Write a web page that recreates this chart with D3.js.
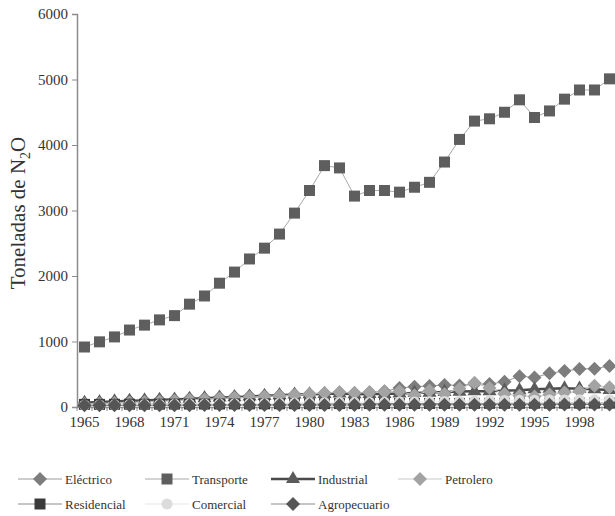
<!DOCTYPE html>
<html>
<head>
<meta charset="utf-8">
<script src="https://cdn.jsdelivr.net/npm/d3@7/dist/d3.min.js"></script>
<style>
  body { margin: 0; background: #fff; }
</style>
</head>
<body>
<script>
'use strict';

const serif = 'Liberation Serif';

// years on the x axis
const years = d3.range(1965, 2001);
const tickYears = years.filter((y) => (y - 1965) % 3 === 0);
const yTicks = [0, 1000, 2000, 3000, 4000, 5000, 6000];

// emissions per sector (toneladas de N2O)
const electrico = [60, 70, 80, 90, 95, 105, 110, 125, 135, 145, 155, 165, 170, 180, 190, 200, 210, 220,
  215, 225, 240, 290, 310, 320, 336, 330, 350, 350, 386, 470, 450, 514, 550, 580, 585, 626];
const transporte = [916, 995, 1070, 1175, 1250, 1330, 1395, 1570, 1695, 1890, 2060, 2260, 2425, 2640,
  2960, 3305, 3685, 3650, 3220, 3305, 3305, 3280, 3355, 3430, 3740, 4085, 4365, 4400, 4500, 4690,
  4420, 4520, 4700, 4840, 4840, 5010];
const industrial = [65, 75, 85, 95, 100, 110, 115, 125, 135, 145, 150, 160, 170, 180, 190, 195, 200,
  205, 195, 200, 200, 205, 215, 220, 230, 235, 240, 240, 250, 255, 270, 280, 285, 280, 270, 260];
const petrolero = [45, 55, 60, 70, 75, 85, 95, 110, 120, 130, 140, 150, 160, 170, 185, 200, 215, 225,
  215, 220, 230, 240, 180, 250, 200, 280, 370, 290, 200, 170, 160, 190, 220, 240, 325, 300];
const residencial = [40, 40, 41, 42, 42, 43, 44, 45, 45, 46, 47, 48, 48, 49, 50, 50, 51, 52, 52, 52,
  53, 53, 54, 54, 55, 55, 56, 56, 57, 57, 58, 58, 59, 59, 60, 60];
const comercial = [30, 32, 34, 36, 38, 40, 42, 44, 46, 48, 50, 52, 55, 58, 60, 62, 65, 67, 68, 70,
  72, 75, 78, 80, 85, 90, 95, 98, 100, 102, 104, 106, 108, 110, 110, 112];
const agropecuario = [25, 25, 26, 26, 27, 27, 28, 28, 29, 29, 30, 30, 30, 31, 31, 32, 32, 32, 32, 33,
  33, 33, 34, 34, 34, 35, 35, 35, 35, 36, 36, 36, 37, 37, 37, 38];

const series = [
  { name: 'Eléctrico', values: electrico, shape: 'diamond', fill: '#7d7d7d', line: '#9a9a9a', lw: 1 },
  { name: 'Transporte', values: transporte, shape: 'square', fill: '#5e5e5e', line: '#a8a8a8', lw: 1 },
  { name: 'Industrial', values: industrial, shape: 'triangle', fill: '#5a5a5a', line: '#4a4a4a', lw: 2.5 },
  { name: 'Petrolero', values: petrolero, shape: 'diamond', fill: '#a3a3a3', line: '#c8c8c8', lw: 1 },
  { name: 'Residencial', values: residencial, shape: 'square', fill: '#3a3a3a', line: '#8a8a8a', lw: 1 },
  { name: 'Comercial', values: comercial, shape: 'circle', fill: '#dcdcdc', line: '#eeeeee', lw: 1.5 },
  { name: 'Agropecuario', values: agropecuario, shape: 'diamond', fill: '#555555', line: '#8a8a8a', lw: 1 }
];

const width = 615, height = 516;
const svg = d3.select('body').append('svg')
  .attr('width', width)
  .attr('height', height)
  .attr('font-family', serif);

const x = d3.scaleBand().domain(years).range([77, 77 + years.length * 15]);
const xc = (yr) => x(yr) + x.bandwidth() / 2;
const y = d3.scaleLinear().domain([0, 6000]).range([407, 14]);

// marker symbols
const symbols = {
  diamond: d3.symbol().type(d3.symbolDiamond2).size(125),
  square: d3.symbol().type(d3.symbolSquare).size(121),
  triangle: d3.symbol().type(d3.symbolTriangle).size(85),
  circle: d3.symbol().type(d3.symbolCircle).size(95)
};

// y axis
const yAxis = svg.append('g')
  .attr('transform', 'translate(77,0)')
  .call(d3.axisLeft(y).tickValues(yTicks).tickSize(5).tickPadding(4).tickFormat(d3.format('d')))
  .attr('font-family', serif)
  .attr('font-size', 15);
yAxis.select('.domain').attr('stroke', '#8c8c8c').attr('stroke-width', 1.5);
yAxis.selectAll('.tick line').attr('stroke', '#8c8c8c');
yAxis.selectAll('.tick text').attr('fill', '#333');

// x axis
const xAxis = svg.append('g')
  .attr('transform', 'translate(0,407)')
  .call(d3.axisBottom(x).tickValues(tickYears).tickSize(0).tickPadding(9))
  .attr('font-family', serif)
  .attr('font-size', 15);
xAxis.select('.domain').attr('stroke', '#8c8c8c').attr('stroke-width', 1.5);
xAxis.selectAll('.tick text').attr('fill', '#333');
// small ticks between categories
svg.append('g').selectAll('line')
  .data(years)
  .join('line')
  .attr('x1', (d) => x(d)).attr('x2', (d) => x(d))
  .attr('y1', 407).attr('y2', 411)
  .attr('stroke', '#8c8c8c');

// y label
svg.append('text')
  .attr('transform', 'translate(25,213)rotate(-90)')
  .attr('text-anchor', 'middle')
  .attr('font-size', 21)
  .attr('fill', '#333')
  .html('Toneladas de N<tspan dy="5" font-size="14">2</tspan><tspan dy="-5">O</tspan>');

// lines and markers
const line = d3.line().x((d, i) => xc(years[i])).y((d) => y(d));
series.forEach(function(s) {
  const g = svg.append('g');
  g.append('path')
    .attr('d', line(s.values))
    .attr('fill', 'none')
    .attr('stroke', s.line)
    .attr('stroke-width', s.lw);
  g.selectAll('path.mk')
    .data(s.values)
    .join('path')
    .attr('class', 'mk')
    .attr('d', symbols[s.shape])
    .attr('transform', (d, i) => 'translate(' + xc(years[i]) + ',' + y(d) + ')')
    .attr('fill', s.fill);
});

// legend
const legX = [18, 145, 271, 398];
const legY = [479, 504];
series.forEach(function(s, i) {
  const lx = legX[i % 4], ly = legY[Math.floor(i / 4)];
  const g = svg.append('g').attr('transform', 'translate(' + lx + ',' + ly + ')');
  g.append('line')
    .attr('x1', 0).attr('x2', 44).attr('y1', 0).attr('y2', 0)
    .attr('stroke', s.line).attr('stroke-width', s.lw);
  g.append('path')
    .attr('d', symbols[s.shape])
    .attr('transform', 'translate(22,0)')
    .attr('fill', s.fill);
  g.append('text')
    .attr('x', 47).attr('y', 5)
    .attr('font-size', 13)
    .attr('fill', '#333')
    .text(s.name);
});
</script>
</body>
</html>
